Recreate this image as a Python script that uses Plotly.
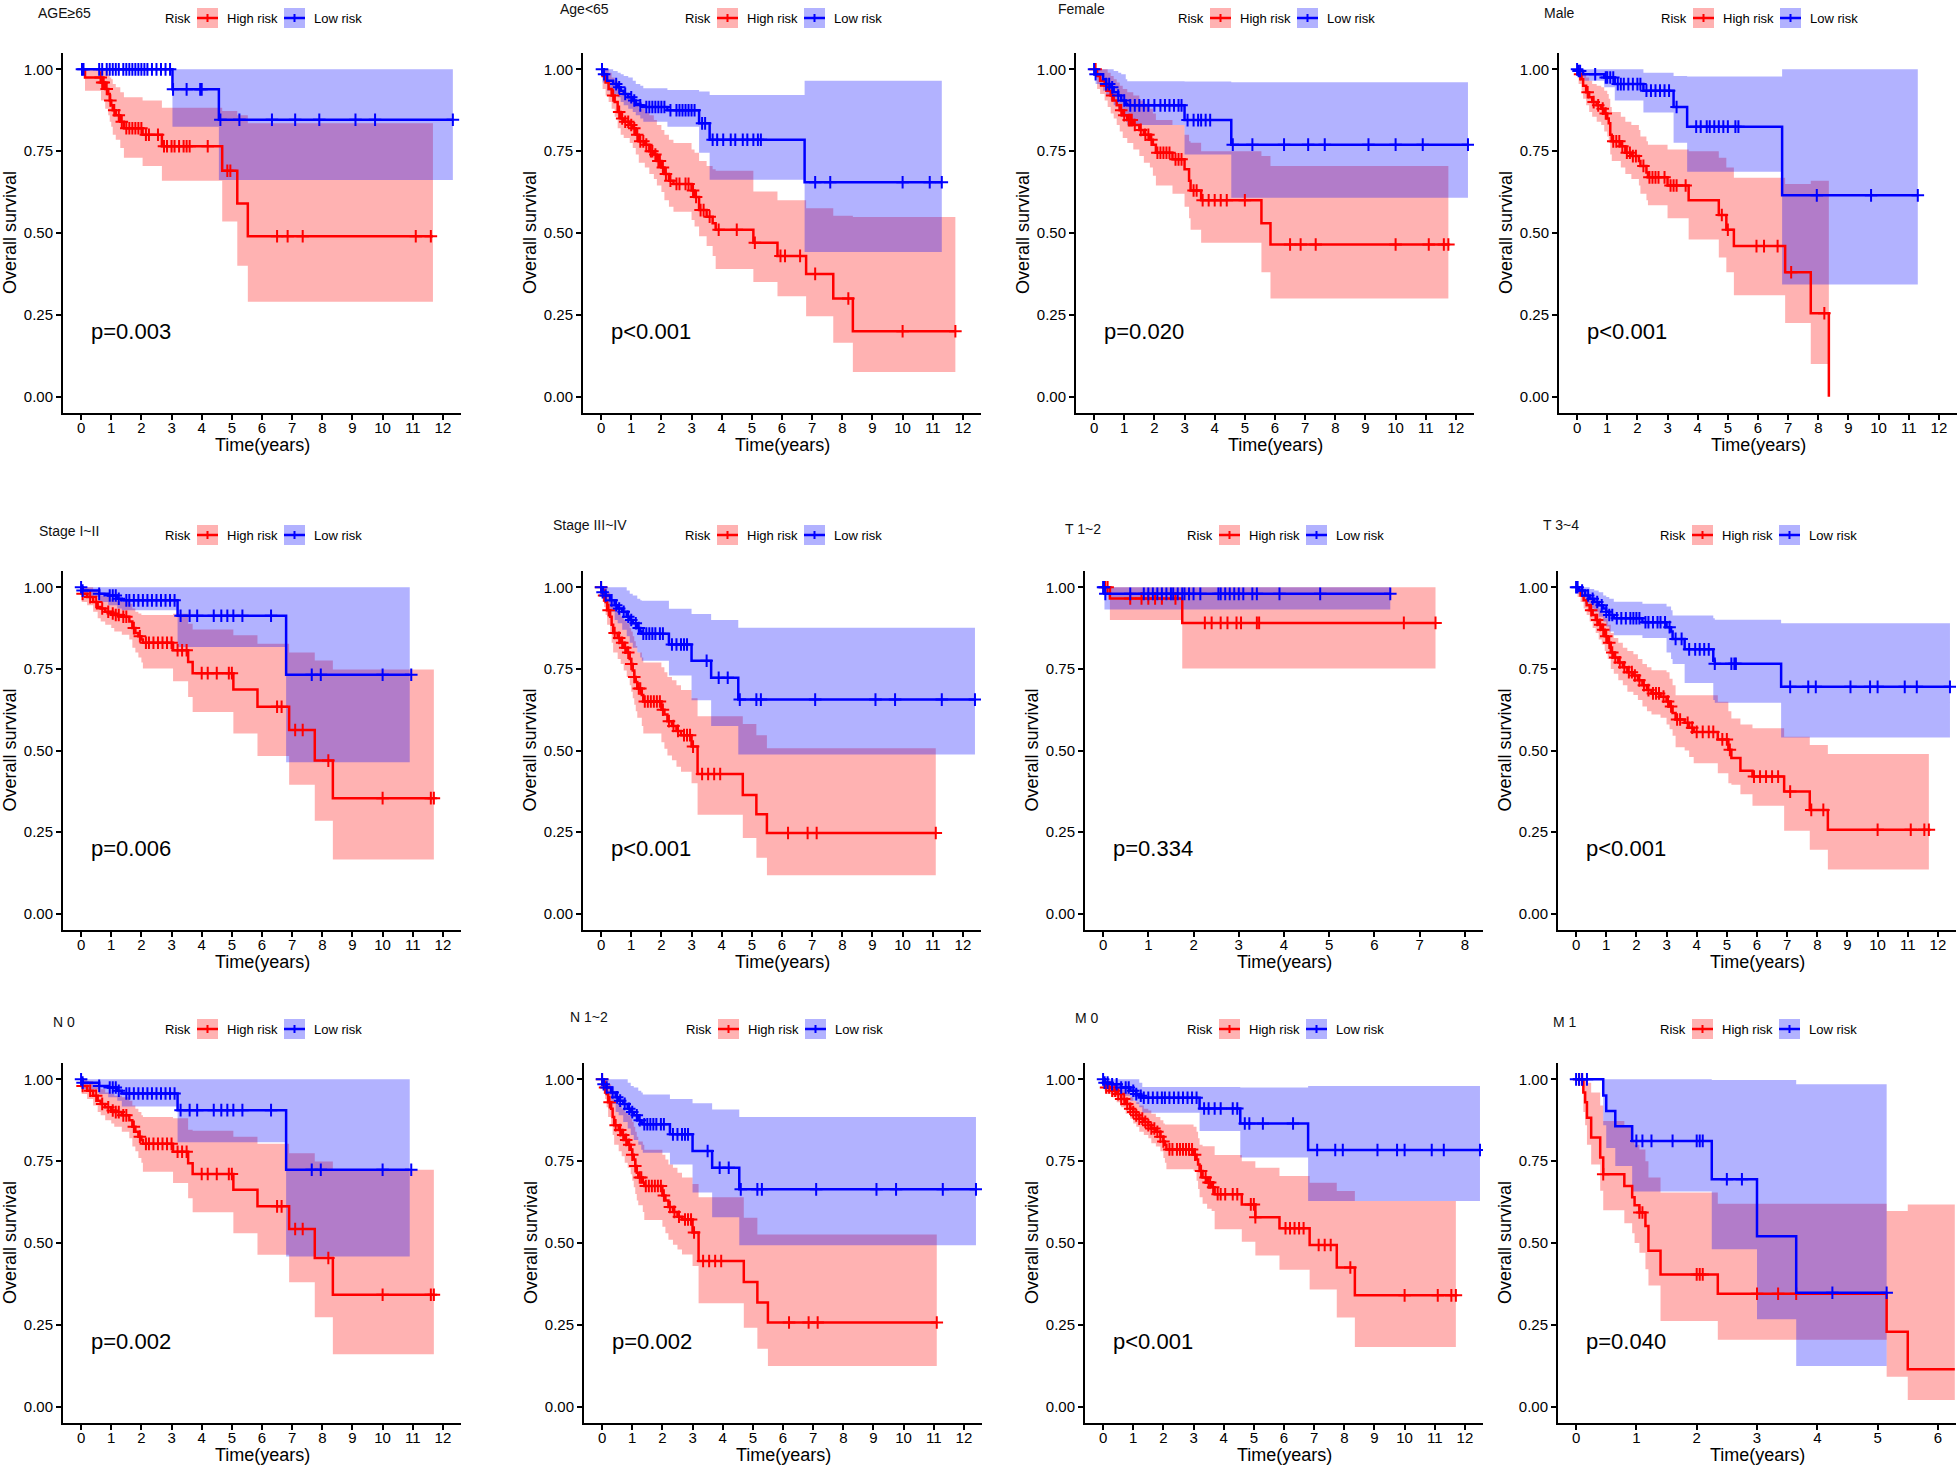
import plotly.graph_objects as go

W, H = 1960, 1471          # reference canvas
OFF = 0                    # page body margin is removed by the post script below
FW, FH = W - 2 * OFF, H - 2 * OFF
FONT = "Liberation Sans, Arial, sans-serif"
RED, BLUE = "#FF0000", "#0000FF"
RED_FILL, BLUE_FILL = "rgba(255,0,0,0.3)", "rgba(0,0,255,0.3)"

# ---------------- DATA ----------------
titles = ["AGE≥65", "Age&lt;65", "Female", "Male", "Stage I~II", "Stage III~IV",
          "T 1~2", "T 3~4", "N 0", "N 1~2", "M 0", "M 1"]
pvals = ["p=0.003", "p&lt;0.001", "p=0.020", "p&lt;0.001", "p=0.006", "p&lt;0.001",
         "p=0.334", "p&lt;0.001", "p=0.002", "p=0.002", "p&lt;0.001", "p=0.040"]
xmax_years = [12, 12, 12, 12, 12, 12, 8, 12, 12, 12, 12, 6]
y_ticks = [0, 0.25, 0.5, 0.75, 1.0]

# Panel 1: AGE>=65
p1_high_t = [0, 0.13, 0.66, 0.8, 0.9, 0.95, 1.0, 1.05, 1.15, 1.3, 1.42, 2.04, 2.68, 4.68, 5.18, 5.53]
p1_high_s = [1.0, 0.975, 0.96, 0.94, 0.925, 0.905, 0.89, 0.875, 0.86, 0.84, 0.82, 0.80, 0.765, 0.69, 0.59, 0.49]
p1_high_lo = [1.0, 0.935, 0.905, 0.88, 0.86, 0.84, 0.825, 0.80, 0.785, 0.76, 0.73, 0.705, 0.66, 0.535, 0.40, 0.29]
p1_high_hi = [1.0, 1.0, 1.0, 0.995, 0.985, 0.975, 0.97, 0.955, 0.945, 0.93, 0.915, 0.905, 0.883, 0.873, 0.86, 0.835]
p1_high_end = 11.67
p1_high_cens = [0.65, 0.7, 0.75, 0.85, 0.97, 1.1, 1.25, 1.35, 1.5, 1.6, 1.7, 1.8, 1.9, 2.0, 2.15, 2.25, 2.55,
                2.75, 2.85, 3.0, 3.1, 3.25, 3.4, 3.5, 3.6, 4.2, 4.85, 4.95, 6.5, 6.85, 7.35, 11.1, 11.6]
p1_low_t = [0, 3.03, 4.57]
p1_low_s = [1.0, 0.939, 0.846]
p1_low_lo = [1.0, 0.825, 0.662]
p1_low_hi = [1.0, 1.0, 1.0]
p1_low_end = 12.33
p1_low_cens = [0.03, 0.08, 0.6, 0.7, 0.85, 0.95, 1.05, 1.15, 1.25, 1.4, 1.5, 1.6, 1.7, 1.8, 1.9, 2.0, 2.1, 2.2,
               2.35, 2.5, 2.65, 2.8, 2.95, 3.05, 3.5, 3.95, 4.0, 4.62, 5.25, 6.33, 7.1, 7.9, 9.1, 9.75, 12.33]

# Panel 2: Age<65
p2_high_t = [0, 0.05, 0.15, 0.25, 0.35, 0.45, 0.55, 0.65, 0.75, 0.95, 1.05, 1.15, 1.25, 1.45, 1.6, 1.75, 1.85,
             2.0, 2.1, 2.25, 2.4, 3.0, 3.1, 3.25, 3.5, 3.7, 3.8, 5.05, 5.85, 6.8, 7.7, 8.35]
p2_high_s = [1.0, 0.98, 0.96, 0.94, 0.92, 0.90, 0.87, 0.85, 0.84, 0.83, 0.82, 0.80, 0.78, 0.77, 0.75, 0.74, 0.72,
             0.70, 0.68, 0.66, 0.65, 0.63, 0.61, 0.57, 0.55, 0.53, 0.51, 0.47, 0.43, 0.375, 0.30, 0.20]
p2_high_lo = [1.0, 0.94, 0.92, 0.90, 0.88, 0.855, 0.82, 0.80, 0.79, 0.775, 0.76, 0.74, 0.715, 0.70, 0.68, 0.665,
              0.645, 0.625, 0.60, 0.58, 0.565, 0.54, 0.52, 0.49, 0.46, 0.43, 0.39, 0.35, 0.307, 0.246, 0.165, 0.075]
p2_high_hi = [1.0, 1.0, 1.0, 0.99, 0.975, 0.965, 0.945, 0.935, 0.925, 0.92, 0.91, 0.895, 0.88, 0.87, 0.86, 0.845,
              0.83, 0.815, 0.80, 0.785, 0.775, 0.755, 0.745, 0.72, 0.705, 0.695, 0.69, 0.627, 0.60, 0.576, 0.553, 0.549]
p2_high_end = 11.75
p2_high_cens = [0.4, 0.6, 0.7, 0.8, 0.9, 1.0, 1.1, 1.2, 1.3, 1.4, 1.5, 1.65, 1.7, 1.8, 1.9, 1.95, 2.05, 2.15, 2.3,
                2.5, 2.6, 2.8, 2.9, 3.05, 3.15, 3.3, 3.4, 3.6, 3.9, 4.5, 5.1, 5.95, 6.1, 6.6, 7.1, 8.2, 10.0, 11.75]
p2_low_t = [0, 0.05, 0.2, 0.4, 0.55, 0.65, 0.75, 0.9, 1.05, 1.15, 1.3, 1.4, 2.2, 3.25, 3.6, 6.75]
p2_low_s = [1.0, 0.985, 0.965, 0.955, 0.945, 0.935, 0.925, 0.915, 0.905, 0.895, 0.89, 0.885, 0.875, 0.835, 0.785, 0.655]
p2_low_lo = [1.0, 0.96, 0.935, 0.925, 0.915, 0.90, 0.89, 0.88, 0.87, 0.86, 0.85, 0.84, 0.825, 0.745, 0.663, 0.442]
p2_low_hi = [1.0, 1.0, 1.0, 0.995, 0.99, 0.985, 0.98, 0.975, 0.965, 0.955, 0.95, 0.942, 0.937, 0.932, 0.922, 0.965]
p2_low_end = 11.3
p2_low_cens = [0.03, 0.1, 0.5, 0.6, 0.8, 1.0, 1.1, 1.3, 1.5, 1.6, 1.7, 1.8, 1.9, 2.0, 2.1, 2.3, 2.5, 2.6, 2.7, 2.8,
               2.9, 3.0, 3.1, 3.35, 3.45, 3.7, 3.85, 4.05, 4.3, 4.45, 4.7, 4.85, 5.05, 5.2, 5.3, 7.1, 7.6, 10.0, 10.9, 11.3]

# Panel 3: Female
p3_high_t = [0, 0.1, 0.2, 0.35, 0.45, 0.55, 0.65, 0.75, 0.85, 0.95, 1.1, 1.3, 1.5, 1.65, 1.85, 1.95, 2.05, 2.6,
             3.0, 3.15, 3.2, 3.55, 5.55, 5.85]
p3_high_s = [1.0, 0.98, 0.965, 0.95, 0.935, 0.92, 0.905, 0.89, 0.875, 0.86, 0.845, 0.83, 0.815, 0.80, 0.785, 0.77,
             0.745, 0.725, 0.695, 0.66, 0.63, 0.60, 0.53, 0.465]
p3_high_lo = [1.0, 0.94, 0.925, 0.905, 0.885, 0.865, 0.85, 0.83, 0.81, 0.79, 0.775, 0.755, 0.735, 0.715, 0.70, 0.675,
              0.645, 0.62, 0.58, 0.545, 0.51, 0.47, 0.38, 0.30]
p3_high_hi = [1.0, 1.0, 1.0, 1.0, 0.99, 0.98, 0.97, 0.96, 0.95, 0.94, 0.93, 0.92, 0.905, 0.895, 0.88, 0.865, 0.845,
              0.83, 0.80, 0.78, 0.776, 0.75, 0.735, 0.705]
p3_high_end = 11.75
p3_high_cens = [0.05, 0.4, 0.6, 0.9, 1.0, 1.15, 1.2, 1.25, 1.35, 1.55, 1.7, 1.8, 1.9, 2.1, 2.2, 2.3, 2.4, 2.5, 2.7,
                2.8, 2.9, 3.3, 3.4, 3.6, 3.8, 4.0, 4.2, 4.4, 5.0, 6.5, 6.85, 7.35, 10.0, 11.1, 11.6, 11.75]
p3_low_t = [0, 0.05, 0.3, 0.4, 0.55, 0.65, 0.8, 0.9, 1.05, 1.1, 3.0, 4.55]
p3_low_s = [1.0, 0.985, 0.97, 0.955, 0.945, 0.93, 0.92, 0.905, 0.895, 0.89, 0.845, 0.77]
p3_low_lo = [1.0, 0.955, 0.935, 0.92, 0.905, 0.89, 0.875, 0.855, 0.84, 0.83, 0.74, 0.608]
p3_low_hi = [1.0, 1.0, 1.0, 1.0, 1.0, 0.995, 0.99, 0.985, 0.97, 0.964, 0.963, 0.961]
p3_low_end = 12.4
p3_low_cens = [0.0, 0.05, 0.4, 0.5, 0.6, 0.8, 1.0, 1.2, 1.35, 1.5, 1.65, 1.8, 2.0, 2.2, 2.35, 2.5, 2.65, 2.8, 2.9,
               3.1, 3.3, 3.45, 3.55, 3.7, 3.85, 4.6, 5.25, 6.3, 7.1, 7.65, 9.1, 10.0, 10.9, 12.4]

# Panel 4: Male
p4_high_t = [0, 0.05, 0.15, 0.2, 0.3, 0.4, 0.5, 0.65, 0.8, 0.9, 1.0, 1.05, 1.1, 1.15, 1.45, 1.6, 1.8, 2.05, 2.1,
             2.3, 2.35, 3.0, 3.7, 4.7, 4.95, 5.2, 6.9, 7.75, 8.35]
p4_high_s = [1.0, 0.985, 0.97, 0.95, 0.93, 0.915, 0.90, 0.89, 0.88, 0.865, 0.85, 0.835, 0.80, 0.78, 0.765, 0.745,
             0.735, 0.72, 0.705, 0.685, 0.67, 0.645, 0.60, 0.555, 0.51, 0.46, 0.38, 0.255, 0.0]
p4_high_lo = [1.0, 0.955, 0.935, 0.91, 0.89, 0.87, 0.855, 0.84, 0.83, 0.81, 0.795, 0.775, 0.74, 0.72, 0.70, 0.68,
              0.665, 0.645, 0.62, 0.60, 0.585, 0.545, 0.48, 0.425, 0.38, 0.31, 0.225, 0.10, 0.0]
p4_high_hi = [1.0, 1.0, 1.0, 0.99, 0.975, 0.965, 0.955, 0.95, 0.945, 0.935, 0.925, 0.91, 0.885, 0.87, 0.855, 0.84,
              0.83, 0.815, 0.795, 0.78, 0.77, 0.755, 0.75, 0.73, 0.70, 0.669, 0.65, 0.66, 0.0]
p4_high_end = 8.35
p4_high_cens = [0.1, 0.35, 0.55, 0.7, 0.85, 0.95, 1.2, 1.3, 1.4, 1.5, 1.65, 1.75, 1.85, 1.95, 2.2, 2.4, 2.5, 2.6,
                2.7, 2.9, 3.1, 3.2, 3.3, 3.6, 4.8, 5.0, 5.95, 6.2, 6.65, 7.1, 8.2]
p4_low_t = [0, 0.05, 0.2, 0.9, 1.25, 2.2, 3.2, 3.65, 6.8]
p4_low_s = [1.0, 0.995, 0.985, 0.975, 0.955, 0.935, 0.885, 0.825, 0.615]
p4_low_lo = [1.0, 0.985, 0.965, 0.945, 0.905, 0.868, 0.776, 0.687, 0.343]
p4_low_hi = [1.0, 1.0, 1.0, 1.0, 1.0, 0.99, 0.98, 0.978, 1.0]
p4_low_end = 11.3
p4_low_cens = [0.0, 0.05, 0.1, 0.6, 0.95, 1.0, 1.1, 1.2, 1.35, 1.45, 1.55, 1.7, 1.85, 2.0, 2.1, 2.3, 2.45, 2.6,
               2.75, 2.9, 3.05, 3.3, 3.95, 4.1, 4.3, 4.4, 4.55, 4.7, 4.85, 5.0, 5.25, 5.35, 7.95, 9.75, 11.3]

# Panel 5: Stage I~II
p5_high_t = [0, 0.02, 0.2, 0.4, 0.55, 0.65, 0.8, 1.0, 1.1, 1.35, 1.6, 1.7, 1.8, 1.9, 2.0, 2.05, 3.05, 3.55, 3.7,
             5.05, 5.85, 6.9, 7.75, 8.35]
p5_high_s = [1.0, 0.98, 0.97, 0.955, 0.94, 0.935, 0.925, 0.92, 0.915, 0.91, 0.895, 0.875, 0.86, 0.85, 0.84, 0.83,
             0.807, 0.771, 0.737, 0.687, 0.634, 0.563, 0.469, 0.354]
p5_high_lo = [1.0, 0.955, 0.945, 0.925, 0.905, 0.895, 0.885, 0.875, 0.865, 0.855, 0.84, 0.815, 0.80, 0.785, 0.77,
              0.751, 0.712, 0.664, 0.618, 0.552, 0.483, 0.395, 0.285, 0.166]
p5_high_hi = [1.0, 1.0, 1.0, 0.99, 0.98, 0.975, 0.97, 0.965, 0.96, 0.955, 0.95, 0.935, 0.925, 0.92, 0.915, 0.915,
              0.919, 0.888, 0.871, 0.853, 0.827, 0.80, 0.776, 0.748]
p5_high_end = 11.7
p5_high_cens = [0.05, 0.3, 0.5, 0.7, 0.9, 1.05, 1.15, 1.25, 1.4, 1.5, 1.75, 1.95, 2.15, 2.25, 2.4, 2.55, 2.7, 2.85,
                3.0, 3.2, 3.35, 3.5, 4.0, 4.2, 4.5, 4.9, 5.0, 6.5, 6.65, 7.1, 7.35, 8.2, 10.0, 11.6, 11.7]
p5_low_t = [0, 0.05, 0.6, 0.9, 1.2, 1.35, 3.2, 6.8]
p5_low_s = [1.0, 0.99, 0.98, 0.975, 0.965, 0.96, 0.913, 0.732]
p5_low_lo = [1.0, 0.97, 0.955, 0.945, 0.935, 0.93, 0.817, 0.464]
p5_low_hi = [1.0, 1.0, 1.0, 1.0, 1.0, 1.0, 1.0, 1.0]
p5_low_end = 10.9
p5_low_cens = [0.0, 0.05, 0.6, 0.95, 1.05, 1.15, 1.25, 1.5, 1.6, 1.75, 1.9, 2.05, 2.2, 2.35, 2.5, 2.65, 2.8, 2.95,
               3.1, 3.3, 3.6, 3.85, 4.4, 4.65, 4.85, 5.05, 5.35, 6.3, 7.65, 7.95, 10.0, 10.95]

# Panel 6: Stage III~IV
p6_high_t = [0, 0.05, 0.1, 0.15, 0.2, 0.3, 0.35, 0.4, 0.55, 0.65, 0.75, 0.85, 0.95, 1.0, 1.05, 1.1, 1.15, 1.2,
             1.35, 1.4, 2.0, 2.1, 2.2, 2.35, 2.5, 2.65, 3.0, 3.2, 4.7, 5.15, 5.5]
p6_high_s = [1.0, 0.985, 0.975, 0.955, 0.93, 0.91, 0.885, 0.86, 0.845, 0.83, 0.815, 0.80, 0.78, 0.765, 0.745, 0.725,
             0.71, 0.69, 0.67, 0.65, 0.625, 0.61, 0.59, 0.575, 0.56, 0.547, 0.512, 0.428, 0.364, 0.305, 0.247]
p6_high_lo = [1.0, 0.955, 0.94, 0.915, 0.885, 0.86, 0.83, 0.80, 0.78, 0.765, 0.745, 0.725, 0.70, 0.68, 0.66, 0.64,
              0.62, 0.60, 0.575, 0.552, 0.525, 0.505, 0.485, 0.47, 0.45, 0.435, 0.40, 0.303, 0.232, 0.171, 0.118]
p6_high_hi = [1.0, 1.0, 1.0, 0.995, 0.985, 0.97, 0.955, 0.935, 0.925, 0.91, 0.90, 0.89, 0.875, 0.865, 0.85, 0.835,
              0.82, 0.80, 0.785, 0.77, 0.755, 0.74, 0.725, 0.715, 0.70, 0.685, 0.66, 0.605, 0.581, 0.547, 0.507]
p6_high_end = 11.1
p6_high_cens = [0.0, 0.1, 0.25, 0.45, 0.6, 0.7, 0.8, 0.9, 1.0, 1.1, 1.25, 1.3, 1.45, 1.55, 1.65, 1.75, 1.85, 1.95,
                2.05, 2.25, 2.4, 2.55, 2.75, 2.85, 2.95, 3.05, 3.35, 3.55, 3.75, 3.95, 6.2, 6.85, 7.15, 11.1]
p6_low_t = [0, 0.05, 0.15, 0.3, 0.45, 0.55, 0.7, 0.85, 0.95, 1.05, 1.2, 1.3, 1.35, 2.25, 3.0, 3.65, 4.55]
p6_low_s = [1.0, 0.985, 0.975, 0.96, 0.945, 0.935, 0.925, 0.91, 0.90, 0.89, 0.875, 0.865, 0.858, 0.825, 0.775,
            0.723, 0.656]
p6_low_lo = [1.0, 0.965, 0.95, 0.925, 0.90, 0.89, 0.87, 0.85, 0.83, 0.815, 0.80, 0.785, 0.775, 0.73, 0.654, 0.575,
             0.488]
p6_low_hi = [1.0, 1.0, 1.0, 1.0, 1.0, 1.0, 1.0, 0.99, 0.98, 0.975, 0.965, 0.96, 0.959, 0.934, 0.918, 0.90, 0.876]
p6_low_end = 12.4
p6_low_cens = [0.0, 0.05, 0.15, 0.35, 0.5, 0.6, 0.75, 0.9, 1.0, 1.15, 1.25, 1.4, 1.5, 1.6, 1.7, 1.8, 1.95, 2.05,
               2.35, 2.5, 2.65, 2.75, 2.85, 3.5, 3.9, 4.2, 4.6, 5.15, 5.3, 7.1, 9.1, 9.75, 11.3, 12.4]

# Panel 7: T 1~2
p7_high_t = [0, 0.15, 1.75]
p7_high_s = [1.0, 0.966, 0.891]
p7_high_lo = [1.0, 0.90, 0.751]
p7_high_hi = [1.0, 1.0, 1.0]
p7_high_end = 7.35
p7_high_cens = [0.05, 0.1, 0.6, 0.85, 1.0, 1.15, 1.3, 1.6, 2.25, 2.4, 2.6, 2.75, 2.95, 3.05, 3.4, 3.45, 6.65, 7.35]
p7_low_t = [0, 0.03]
p7_low_s = [1.0, 0.98]
p7_low_lo = [1.0, 0.932]
p7_low_hi = [1.0, 1.0]
p7_low_end = 6.35
p7_low_cens = [0.0, 0.02, 0.05, 0.6, 0.9, 1.0, 1.1, 1.2, 1.3, 1.4, 1.5, 1.55, 1.65, 1.75, 1.8, 1.9, 2.0, 2.15,
               2.55, 2.6, 2.7, 2.8, 2.9, 3.0, 3.1, 3.3, 3.4, 3.9, 4.8, 6.35]

# Panel 8: T 3~4
p8_high_t = [0, 0.05, 0.15, 0.25, 0.35, 0.45, 0.55, 0.65, 0.75, 0.85, 0.95, 1.05, 1.15, 1.25, 1.4, 1.55, 1.7, 1.9,
             2.05, 2.2, 2.35, 2.5, 2.8, 3.0, 3.1, 3.2, 3.3, 3.6, 3.75, 3.9, 4.7, 5.05, 5.15, 5.45, 5.85, 6.9, 7.75, 8.35]
p8_high_s = [1.0, 0.99, 0.975, 0.96, 0.945, 0.93, 0.915, 0.90, 0.885, 0.87, 0.85, 0.83, 0.80, 0.785, 0.77, 0.755,
             0.74, 0.73, 0.715, 0.70, 0.685, 0.675, 0.665, 0.65, 0.635, 0.615, 0.595, 0.585, 0.57, 0.557, 0.534,
             0.502, 0.477, 0.438, 0.42, 0.374, 0.318, 0.257]
p8_high_lo = [1.0, 0.97, 0.955, 0.935, 0.915, 0.895, 0.875, 0.86, 0.84, 0.825, 0.805, 0.78, 0.75, 0.735, 0.715,
              0.70, 0.68, 0.67, 0.655, 0.635, 0.62, 0.61, 0.60, 0.58, 0.565, 0.545, 0.51, 0.50, 0.48, 0.461, 0.43,
              0.40, 0.395, 0.366, 0.331, 0.254, 0.196, 0.135]
p8_high_hi = [1.0, 1.0, 1.0, 0.99, 0.98, 0.97, 0.96, 0.945, 0.935, 0.92, 0.905, 0.885, 0.86, 0.845, 0.83, 0.815,
              0.805, 0.795, 0.78, 0.765, 0.755, 0.746, 0.746, 0.74, 0.72, 0.70, 0.669, 0.669, 0.669, 0.669, 0.649,
              0.62, 0.598, 0.58, 0.568, 0.542, 0.517, 0.489]
p8_high_end = 11.7
p8_high_cens = [0.5, 0.7, 0.8, 0.9, 1.0, 1.1, 1.2, 1.3, 1.45, 1.6, 1.75, 1.85, 1.95, 2.1, 2.25, 2.4, 2.55, 2.65,
                2.75, 2.9, 3.05, 3.15, 3.35, 3.45, 3.7, 3.85, 4.0, 4.2, 4.4, 4.55, 4.85, 5.0, 5.1, 5.9, 6.1, 6.3,
                6.5, 6.7, 7.1, 7.8, 8.2, 10.0, 11.1, 11.55, 11.7]
p8_low_t = [0, 0.1, 0.3, 0.45, 0.6, 0.75, 0.9, 1.0, 1.1, 1.25, 2.2, 3.0, 3.15, 3.2, 3.6, 4.55, 4.6, 6.8]
p8_low_s = [1.0, 0.99, 0.975, 0.965, 0.955, 0.945, 0.935, 0.925, 0.915, 0.905, 0.893, 0.878, 0.865, 0.842, 0.81,
            0.775, 0.766, 0.695]
p8_low_lo = [1.0, 0.975, 0.95, 0.935, 0.925, 0.91, 0.895, 0.88, 0.865, 0.853, 0.845, 0.80, 0.78, 0.765, 0.707,
             0.655, 0.646, 0.54]
p8_low_hi = [1.0, 1.0, 1.0, 0.995, 0.99, 0.985, 0.975, 0.97, 0.965, 0.956, 0.95, 0.941, 0.93, 0.914, 0.914, 0.905,
             0.901, 0.89]
p8_low_end = 12.4
p8_low_cens = [0.0, 0.05, 0.2, 0.4, 0.55, 0.7, 0.85, 1.0, 1.1, 1.2, 1.35, 1.5, 1.65, 1.8, 1.9, 2.0, 2.1, 2.3, 2.4,
               2.55, 2.7, 2.8, 2.95, 3.1, 3.3, 3.5, 3.75, 3.95, 4.1, 4.25, 4.4, 4.6, 5.15, 5.25, 5.3, 7.1, 7.7,
               7.95, 9.1, 9.75, 10.0, 10.9, 11.3, 12.4]

# Panel 9: N 0
p9_high_t = [0, 0.02, 0.2, 0.4, 0.55, 0.65, 0.8, 1.0, 1.1, 1.35, 1.6, 1.7, 1.8, 1.9, 2.0, 2.05, 3.05, 3.55, 3.7,
             5.05, 5.85, 6.9, 7.75, 8.35]
p9_high_s = [1.0, 0.98, 0.965, 0.95, 0.935, 0.925, 0.915, 0.905, 0.90, 0.89, 0.875, 0.855, 0.84, 0.825, 0.815,
             0.803, 0.779, 0.744, 0.711, 0.663, 0.612, 0.543, 0.454, 0.342]
p9_high_lo = [1.0, 0.955, 0.94, 0.92, 0.90, 0.89, 0.875, 0.865, 0.855, 0.84, 0.82, 0.795, 0.78, 0.76, 0.745, 0.718,
              0.683, 0.637, 0.594, 0.53, 0.464, 0.38, 0.273, 0.16]
p9_high_hi = [1.0, 1.0, 0.995, 0.985, 0.975, 0.97, 0.96, 0.955, 0.95, 0.945, 0.935, 0.92, 0.91, 0.90, 0.89, 0.885,
              0.881, 0.846, 0.843, 0.825, 0.803, 0.774, 0.749, 0.724]
p9_high_end = 11.7
p9_high_cens = [0.05, 0.3, 0.5, 0.7, 0.9, 1.05, 1.15, 1.25, 1.4, 1.5, 1.75, 1.95, 2.15, 2.25, 2.4, 2.55, 2.7, 2.85,
                3.0, 3.2, 3.35, 3.5, 4.0, 4.2, 4.5, 4.9, 5.0, 6.5, 6.65, 7.1, 7.35, 8.2, 10.0, 11.6, 11.7]
p9_low_t = [0, 0.05, 0.6, 0.9, 1.2, 1.35, 3.2, 6.8]
p9_low_s = [1.0, 0.99, 0.98, 0.975, 0.965, 0.957, 0.906, 0.724]
p9_low_lo = [1.0, 0.97, 0.955, 0.945, 0.935, 0.917, 0.808, 0.459]
p9_low_hi = [1.0, 1.0, 1.0, 1.0, 1.0, 1.0, 1.0, 1.0]
p9_low_end = 10.9
p9_low_cens = [0.0, 0.05, 0.6, 0.95, 1.05, 1.15, 1.25, 1.5, 1.6, 1.75, 1.9, 2.05, 2.2, 2.35, 2.5, 2.65, 2.8, 2.95,
               3.1, 3.3, 3.6, 3.85, 4.4, 4.65, 4.85, 5.05, 5.35, 6.3, 7.65, 7.95, 10.0, 10.95]

# Panel 10: N 1~2
p10_high_t = [0, 0.05, 0.1, 0.15, 0.2, 0.3, 0.35, 0.4, 0.55, 0.65, 0.75, 0.85, 0.95, 1.0, 1.05, 1.1, 1.15, 1.2,
              1.35, 1.4, 2.0, 2.1, 2.2, 2.35, 2.5, 2.65, 3.0, 3.2, 4.7, 5.15, 5.5]
p10_high_s = [1.0, 0.985, 0.975, 0.955, 0.93, 0.91, 0.885, 0.86, 0.845, 0.83, 0.815, 0.80, 0.785, 0.77, 0.755,
              0.735, 0.715, 0.70, 0.685, 0.674, 0.645, 0.63, 0.61, 0.595, 0.58, 0.572, 0.532, 0.445, 0.381, 0.318, 0.257]
p10_high_lo = [1.0, 0.955, 0.94, 0.915, 0.885, 0.86, 0.83, 0.80, 0.78, 0.765, 0.745, 0.73, 0.71, 0.69, 0.67, 0.65,
               0.63, 0.615, 0.595, 0.57, 0.55, 0.53, 0.51, 0.495, 0.48, 0.465, 0.43, 0.316, 0.241, 0.177, 0.124]
p10_high_hi = [1.0, 1.0, 1.0, 0.995, 0.985, 0.97, 0.955, 0.935, 0.925, 0.91, 0.90, 0.89, 0.88, 0.87, 0.855, 0.84,
               0.825, 0.81, 0.80, 0.785, 0.77, 0.755, 0.74, 0.73, 0.715, 0.70, 0.68, 0.64, 0.577, 0.526, 0.526]
p10_high_end = 11.1
p10_high_cens = [0.0, 0.1, 0.25, 0.45, 0.6, 0.7, 0.8, 0.9, 1.0, 1.1, 1.25, 1.3, 1.45, 1.55, 1.65, 1.75, 1.85, 1.95,
                 2.05, 2.25, 2.4, 2.55, 2.75, 2.85, 2.95, 3.05, 3.35, 3.55, 3.75, 3.95, 6.2, 6.85, 7.15, 11.1]
p10_low_t = [0, 0.05, 0.15, 0.3, 0.45, 0.55, 0.7, 0.85, 0.95, 1.05, 1.2, 1.3, 1.35, 2.25, 3.0, 3.65, 4.55]
p10_low_s = [1.0, 0.985, 0.975, 0.96, 0.945, 0.935, 0.925, 0.91, 0.90, 0.89, 0.875, 0.868, 0.863, 0.832, 0.781,
             0.73, 0.664]
p10_low_lo = [1.0, 0.965, 0.95, 0.925, 0.90, 0.89, 0.87, 0.85, 0.83, 0.815, 0.80, 0.785, 0.776, 0.74, 0.654, 0.579,
              0.493]
p10_low_hi = [1.0, 1.0, 1.0, 1.0, 1.0, 1.0, 1.0, 0.99, 0.98, 0.975, 0.965, 0.96, 0.954, 0.94, 0.927, 0.908, 0.885]
p10_low_end = 12.4
p10_low_cens = [0.0, 0.05, 0.15, 0.35, 0.5, 0.6, 0.75, 0.9, 1.0, 1.15, 1.25, 1.4, 1.5, 1.6, 1.7, 1.8, 1.95, 2.05,
                2.35, 2.5, 2.65, 2.75, 2.85, 3.5, 3.9, 4.2, 4.6, 5.15, 5.3, 7.1, 9.1, 9.75, 11.3, 12.4]

# Panel 11: M 0
p11_high_t = [0, 0.05, 0.1, 0.3, 0.45, 0.6, 0.75, 0.9, 1.0, 1.1, 1.2, 1.35, 1.5, 1.6, 1.75, 1.9, 2.0, 2.05, 2.1,
              3.0, 3.1, 3.15, 3.2, 3.3, 3.45, 3.6, 3.7, 4.6, 5.05, 5.85, 6.85, 7.75, 8.35]
p11_high_s = [1.0, 0.985, 0.975, 0.965, 0.955, 0.94, 0.925, 0.91, 0.90, 0.89, 0.88, 0.87, 0.86, 0.85, 0.84, 0.825,
              0.81, 0.80, 0.786, 0.77, 0.755, 0.74, 0.72, 0.70, 0.685, 0.67, 0.649, 0.618, 0.579, 0.545, 0.494,
              0.425, 0.34]
p11_high_lo = [1.0, 0.965, 0.955, 0.945, 0.93, 0.915, 0.895, 0.88, 0.865, 0.855, 0.84, 0.83, 0.82, 0.805, 0.795,
               0.78, 0.76, 0.745, 0.725, 0.72, 0.69, 0.665, 0.64, 0.62, 0.605, 0.598, 0.542, 0.504, 0.462, 0.418,
               0.358, 0.272, 0.182]
p11_high_hi = [1.0, 1.0, 0.995, 0.99, 0.98, 0.97, 0.96, 0.945, 0.935, 0.93, 0.92, 0.91, 0.905, 0.895, 0.885, 0.875,
               0.865, 0.862, 0.862, 0.855, 0.84, 0.82, 0.80, 0.796, 0.796, 0.796, 0.769, 0.75, 0.73, 0.705, 0.684,
               0.659, 0.628]
p11_high_end = 11.7
p11_high_cens = [0.1, 0.2, 0.3, 0.4, 0.5, 0.6, 0.7, 0.8, 0.9, 1.0, 1.1, 1.2, 1.3, 1.4, 1.5, 1.6, 1.7, 1.8, 1.9, 2.0,
                 2.2, 2.3, 2.45, 2.55, 2.65, 2.75, 2.85, 2.95, 3.05, 3.25, 3.4, 3.5, 3.55, 3.65, 3.8, 3.9, 4.05,
                 4.3, 4.45, 4.9, 5.0, 5.05, 6.05, 6.2, 6.35, 6.5, 6.65, 7.15, 7.35, 7.55, 8.2, 10.0, 11.1, 11.55, 11.7]
p11_low_t = [0, 0.05, 0.3, 0.6, 0.9, 1.1, 1.2, 1.3, 3.2, 4.55, 6.8]
p11_low_s = [1.0, 0.99, 0.985, 0.975, 0.965, 0.955, 0.95, 0.944, 0.911, 0.865, 0.784]
p11_low_lo = [1.0, 0.97, 0.96, 0.95, 0.935, 0.925, 0.915, 0.898, 0.842, 0.761, 0.628]
p11_low_hi = [1.0, 1.0, 1.0, 1.0, 1.0, 1.0, 0.99, 0.977, 0.977, 0.975, 0.98]
p11_low_end = 12.5
p11_low_cens = [0.0, 0.05, 0.15, 0.3, 0.45, 0.6, 0.75, 0.85, 1.0, 1.1, 1.25, 1.35, 1.5, 1.65, 1.8, 1.95, 2.05, 2.2,
                2.35, 2.5, 2.65, 2.8, 2.95, 3.1, 3.35, 3.5, 3.7, 3.9, 4.3, 4.45, 4.7, 4.85, 5.3, 6.3, 7.1, 7.7,
                7.95, 9.1, 9.75, 10.0, 10.9, 11.3, 12.5]

# Panel 12: M 1
p12_high_t = [0, 0.12, 0.15, 0.18, 0.25, 0.4, 0.45, 0.8, 0.93, 0.97, 1.05, 1.15, 1.2, 1.4, 2.35, 5.15, 5.5]
p12_high_s = [1.0, 0.96, 0.93, 0.883, 0.822, 0.761, 0.71, 0.674, 0.64, 0.615, 0.593, 0.552, 0.476, 0.404, 0.345,
              0.229, 0.114]
p12_high_lo = [1.0, 0.90, 0.86, 0.80, 0.74, 0.66, 0.60, 0.56, 0.53, 0.50, 0.47, 0.42, 0.37, 0.262, 0.204, 0.091, 0.02]
p12_high_hi = [1.0, 1.0, 1.0, 0.99, 0.96, 0.92, 0.873, 0.857, 0.81, 0.80, 0.786, 0.75, 0.70, 0.654, 0.62, 0.598, 0.618]
p12_high_end = 6.28
p12_high_cens = [0.05, 0.1, 0.45, 1.05, 1.1, 2.0, 2.05, 2.1, 3.0, 3.35, 3.65]
p12_low_t = [0, 0.45, 0.5, 0.65, 0.93, 2.25, 3.0, 3.65]
p12_low_s = [1.0, 0.951, 0.903, 0.857, 0.812, 0.695, 0.521, 0.348]
p12_low_lo = [1.0, 0.86, 0.79, 0.735, 0.657, 0.481, 0.267, 0.124]
p12_low_hi = [1.0, 1.0, 1.0, 1.0, 1.0, 0.998, 0.998, 0.985]
p12_low_end = 5.15
p12_low_cens = [0.0, 0.05, 0.1, 0.18, 1.0, 1.1, 1.25, 1.6, 2.0, 2.05, 2.1, 2.5, 2.75, 4.25, 5.15]

# groups for each panel (built from the named arrays above)
g = globals()
panel_groups = []
for k in range(1, 13):
    grp = {}
    for name in ("high", "low"):
        pre = f"p{k}_{name}_"
        grp[name] = (g[pre + "t"], g[pre + "s"], g[pre + "lo"], g[pre + "hi"], g[pre + "end"], g[pre + "cens"])
    panel_groups.append(grp)

# ---------------- LAYOUT CONSTANTS (pixels on the 1960x1471 canvas) ----------------
AX_LEFT = [63, 583, 1076, 1559, 63, 583, 1085, 1558, 63, 584, 1085, 1558]
ROW_TB = [(53, 413), (571, 930), (1063, 1423)]
PLOT_W = 398
TITLE_XY = [(36, 13), (558, 9), (1056, 9), (1542, 13), (37, 531), (551, 525), (1063, 529), (1541, 525),
            (51, 1022), (568, 1017), (1073, 1018), (1551, 1022)]
LEG_Y = [18, 535, 1029]


def fx(p):
    return (p - OFF) / FW


def fy(p):
    return 1 - (p - OFF) / FH


def step_at(t, s, x):
    v = s[0]
    for ti, si in zip(t, s):
        if ti <= x:
            v = si
        else:
            break
    return v


fig = go.Figure()
layout = dict(width=FW, height=FH, autosize=False, margin=dict(l=0, r=0, t=0, b=0, pad=0),
              paper_bgcolor="white", plot_bgcolor="white", showlegend=False, hovermode=False)
annotations = []
shapes = []

for i in range(12):
    n = i + 1
    row = i // 4
    top, bot = ROW_TB[row]
    left = AX_LEFT[i]
    xmax = xmax_years[i]
    xname = "x" if n == 1 else f"x{n}"
    yname = "y" if n == 1 else f"y{n}"
    xkey = "xaxis" if n == 1 else f"xaxis{n}"
    ykey = "yaxis" if n == 1 else f"yaxis{n}"
    axis_common = dict(showline=True, linecolor="black", linewidth=2, ticks="outside", ticklen=5,
                       tickwidth=2, tickcolor="black", showgrid=False, zeroline=False,
                       tickfont=dict(family=FONT, size=15, color="black"))
    ppu = PLOT_W / (1.1 * xmax)                # pixels per year
    right = min(left + PLOT_W, OFF + FW)
    xr0 = -0.05 * xmax
    xr1 = xr0 + (right - left) / ppu
    layout[xkey] = dict(domain=[fx(left), min(1.0, fx(right))], range=[xr0, xr1],
                        anchor=yname, tick0=0, dtick=1, ticklabelstandoff=-5, **axis_common)
    layout[ykey] = dict(domain=[fy(bot), fy(top)], range=[-0.05, 1.05], anchor=xname,
                        tickvals=y_ticks, tickformat=".2f", ticklabelstandoff=0, **axis_common)

    grp = panel_groups[i]
    # confidence ribbons
    for name, fill in (("high", RED_FILL), ("low", BLUE_FILL)):
        t, s, lo, hi, end, cens = grp[name]
        fig.add_trace(go.Scatter(x=t + [end], y=lo + [lo[-1]], mode="lines",
                                 line=dict(width=0, shape="hv", color=fill),
                                 xaxis=xname, yaxis=yname, hoverinfo="skip"))
        fig.add_trace(go.Scatter(x=t + [end], y=hi + [hi[-1]], mode="lines",
                                 line=dict(width=0, shape="hv", color=fill),
                                 fill="tonexty", fillcolor=fill,
                                 xaxis=xname, yaxis=yname, hoverinfo="skip"))
    # curves + censor marks
    for name, col in (("high", RED), ("low", BLUE)):
        t, s, lo, hi, end, cens = grp[name]
        fig.add_trace(go.Scatter(x=t + [end], y=s + [s[-1]], mode="lines",
                                 line=dict(width=2.5, shape="hv", color=col),
                                 xaxis=xname, yaxis=yname))
        fig.add_trace(go.Scatter(x=cens, y=[step_at(t, s, c) for c in cens], mode="markers",
                                 marker=dict(symbol="cross-thin", size=9, line=dict(width=2, color=col), color=col),
                                 xaxis=xname, yaxis=yname))

    # p-value
    annotations.append(dict(text=pvals[i], x=xmax / 48, y=0.2, xref=xname, yref=yname,
                            xanchor="left", yanchor="middle", showarrow=False,
                            font=dict(family=FONT, size=22, color="black")))
    # axis titles
    annotations.append(dict(text="Overall survival", x=fx(left - 53), y=fy((top + bot) / 2),
                            xref="paper", yref="paper", textangle=-90, xanchor="center", yanchor="middle",
                            showarrow=False, font=dict(family=FONT, size=18, color="black")))
    annotations.append(dict(text="Time(years)", x=fx(left + PLOT_W / 2), y=fy(bot + 32),
                            xref="paper", yref="paper", xanchor="center", yanchor="middle",
                            showarrow=False, font=dict(family=FONT, size=18, color="black")))
    # panel title
    tx, ty = TITLE_XY[i]
    annotations.append(dict(text=titles[i], x=fx(tx), y=fy(ty), xref="paper", yref="paper",
                            xanchor="left", yanchor="middle", showarrow=False,
                            font=dict(family=FONT, size=14, color="#111111")))
    # legend
    L = left + 100
    yc = LEG_Y[row]
    annotations.append(dict(text="Risk", x=fx(L), y=fy(yc), xref="paper", yref="paper",
                            xanchor="left", yanchor="middle", showarrow=False,
                            font=dict(family=FONT, size=13, color="black")))
    for (bx, label, col, fill) in ((L + 34, "High risk", RED, RED_FILL), (L + 121, "Low risk", BLUE, BLUE_FILL)):
        shapes.append(dict(type="rect", xref="paper", yref="paper", x0=fx(bx), x1=fx(bx + 21),
                           y0=fy(yc + 10), y1=fy(yc - 10), fillcolor=fill, line=dict(width=0)))
        shapes.append(dict(type="line", xref="paper", yref="paper", x0=fx(bx), x1=fx(bx + 21),
                           y0=fy(yc), y1=fy(yc), line=dict(color=col, width=2.5)))
        shapes.append(dict(type="line", xref="paper", yref="paper", x0=fx(bx + 10.5), x1=fx(bx + 10.5),
                           y0=fy(yc - 4), y1=fy(yc + 4), line=dict(color=col, width=2)))
        annotations.append(dict(text=label, x=fx(bx + 28), y=fy(yc), xref="paper", yref="paper",
                                xanchor="left", yanchor="middle", showarrow=False,
                                font=dict(family=FONT, size=13, color="black")))

layout["annotations"] = annotations
layout["shapes"] = shapes
fig.update_layout(**layout)
fig.write_html("out.html", config={"displayModeBar": False},
               post_script="document.body.style.margin='0px';document.body.style.overflow='hidden';")
